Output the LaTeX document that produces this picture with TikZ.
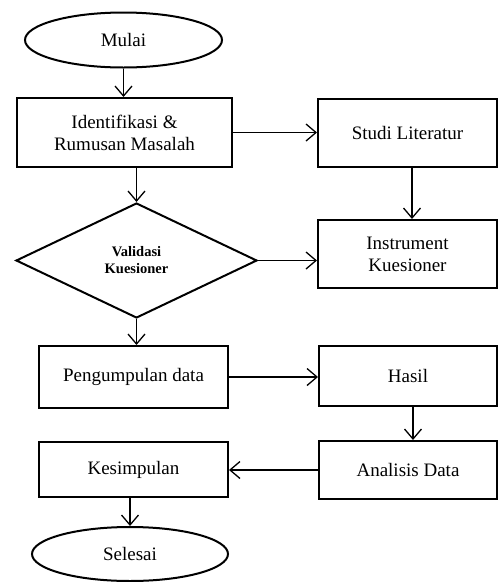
\documentclass[tikz,border=0pt]{standalone}
\usepackage{fontspec}
\setmainfont{Liberation Serif}
\usetikzlibrary{shapes.geometric,arrows.meta}
\begin{document}
\begin{tikzpicture}[x=1pt,y=-1pt,
  box/.style={draw, line width=2pt, rectangle, inner sep=0pt, align=center, font=\fontsize{19}{22}\selectfont},
  oval/.style={draw, line width=2pt, ellipse, inner sep=0pt, font=\fontsize{19}{22}\selectfont},
  dia/.style={draw, line width=2pt, diamond, inner sep=0pt, align=center, font=\fontsize{14.5}{17}\selectfont\bfseries},
  arr/.style={line width=1.3pt, -{Straight Barb[length=10pt,width=17pt,line width=1.3pt]}}]
\useasboundingbox (0,0) rectangle (498,582);
\node[oval, minimum width=197pt, minimum height=55pt] (mulai) at (123.5,40) {Mulai};
\node[box, minimum width=215pt, minimum height=69pt] (ident) at (124.5,132.5) {Identifikasi \&\\Rumusan Masalah};
\node[box, minimum width=179pt, minimum height=68pt] (studi) at (407.5,132.5) {Studi Literatur};
\node[dia, minimum width=241pt, minimum height=115pt, aspect=2.1] (valid) at (136.5,260.5) {Validasi\\Kuesioner};
\node[box, minimum width=179pt, minimum height=68pt] (instr) at (407.5,254) {Instrument\\Kuesioner};
\node[box, minimum width=189pt, minimum height=62pt] (peng) at (133.5,377) {Pengumpulan data};
\node[box, minimum width=178pt, minimum height=60pt] (hasil) at (408,376) {Hasil};
\node[box, minimum width=178pt, minimum height=58pt] (anal) at (408,470) {Analisis Data};
\node[box, minimum width=189pt, minimum height=55pt] (kes) at (133.5,469.5) {Kesimpulan};
\node[oval, minimum width=196pt, minimum height=54pt] (sel) at (130,554) {Selesai};
\draw[arr] (mulai.south) -- (mulai.south |- ident.north);
\draw[arr] (ident.east) -- (studi.west);
\draw[arr] (valid.north |- ident.south) -- (valid.north);
\draw[arr] (studi.south -| 412,0) -- (instr.north -| 412,0);
\draw[arr] (valid.east) -- (valid.east -| instr.west);
\draw[arr] (valid.south) -- (valid.south |- peng.north);
\draw[arr] (peng.east) -- (peng.east -| hasil.west);
\draw[arr] (hasil.south -| 413,0) -- (anal.north -| 413,0);
\draw[arr] (anal.west) -- (anal.west -| kes.east);
\draw[arr] (kes.south -| sel.north) -- (sel.north);
\end{tikzpicture}
\end{document}
